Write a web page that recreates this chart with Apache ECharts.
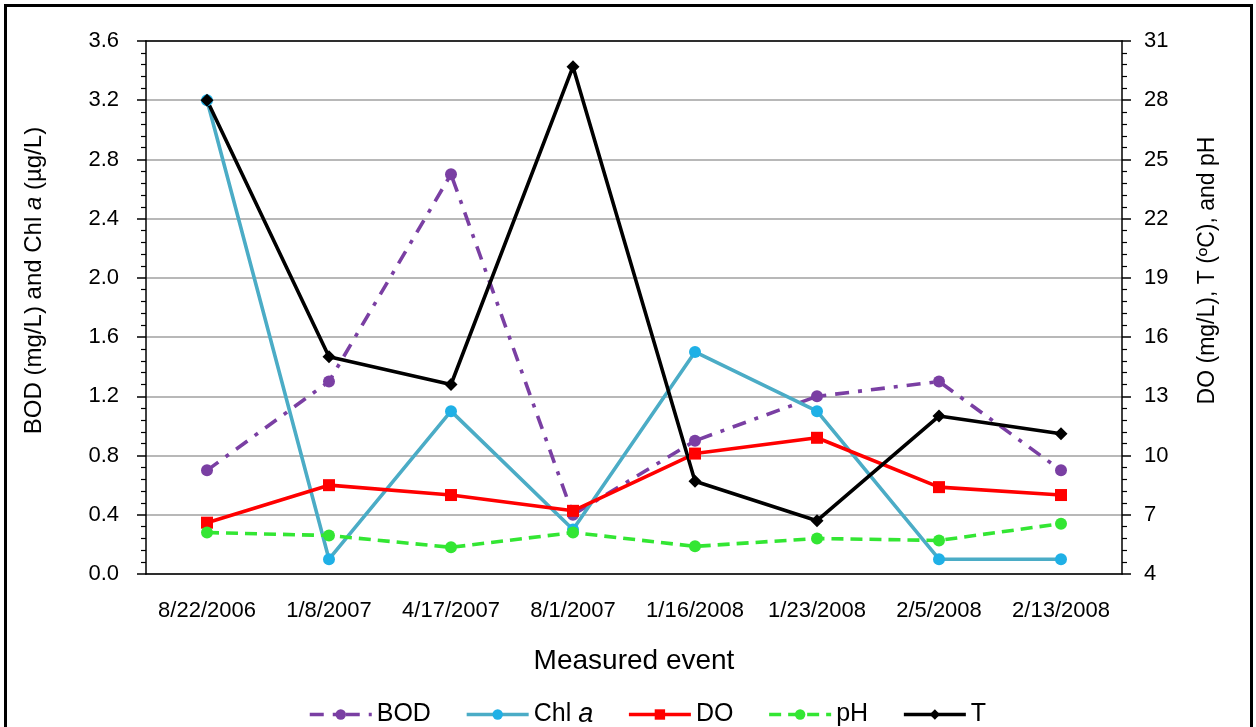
<!DOCTYPE html>
<html>
<head>
<meta charset="utf-8">
<script src="https://cdn.jsdelivr.net/npm/echarts@6/dist/echarts.min.js"></script>
<style>
html,body{margin:0;padding:0;background:#fff;}
#chart{width:1256px;height:727px;}
</style>
</head>
<body>
<div id="chart"></div>
<script>
// Categories (measured events)
const categories = ['8/22/2006','1/8/2007','4/17/2007','8/1/2007','1/16/2008','1/23/2008','2/5/2008','2/13/2008'];
// Left axis: BOD (mg/L) and Chl a (µg/L)
const bodValues = [0.7, 1.3, 2.7, 0.4, 0.9, 1.2, 1.3, 0.7];
const chlValues = [3.2, 0.1, 1.1, 0.3, 1.5, 1.1, 0.1, 0.1];
// Right axis: DO (mg/L), T (ºC), pH
const doValues = [6.6, 8.5, 8.0, 7.2, 10.1, 10.9, 8.4, 8.0];
const phValues = [6.1, 5.95, 5.35, 6.1, 5.4, 5.8, 5.7, 6.55];
const tValues = [28.0, 15.0, 13.6, 29.7, 8.7, 6.7, 12.0, 11.1];
// Axis ranges
const leftAxisRange = [0, 3.6, 0.4];
const rightAxisRange = [4, 31];

const FONT = 'Liberation Sans, Arial, sans-serif';
const chart = echarts.init(document.getElementById('chart'));

const option = {
  animation: false,
  backgroundColor: '#fff',
  grid: {left: 146, right: 134, top: 41, bottom: 153},
  graphic: [{
    type: 'rect', silent: true, z: -10,
    shape: {x: 5.5, y: 5.5, width: 1246, height: 800},
    style: {fill: null, stroke: '#000', lineWidth: 3}
  }],
  legend: {
    left: 303, top: 696,
    itemWidth: 62, itemHeight: 13, itemGap: 34,
    lineStyle: {width: 3.5},
    textStyle: {fontFamily: FONT, fontSize: 25, color: '#000',
      rich: {i: {fontFamily: FONT, fontSize: 27, fontStyle: 'italic', color: '#000'}}},
    formatter: function (name) { return name === 'Chl a' ? 'Chl {i|a}' : name; },
    data: ['BOD', 'Chl a', 'DO', 'pH', 'T']
  },
  xAxis: [{
    type: 'category',
    data: categories,
    boundaryGap: true,
    name: 'Measured event',
    nameLocation: 'middle',
    nameGap: 73,
    nameTextStyle: {fontFamily: FONT, fontSize: 28, color: '#000'},
    axisLine: {lineStyle: {color: '#000', width: 1.5}},
    axisTick: {alignWithLabel: true, length: 6, lineStyle: {color: '#000', width: 1.5}},
    axisLabel: {fontFamily: FONT, fontSize: 22, color: '#000', margin: 26, interval: 0},
    splitLine: {show: false}
  }, {
    type: 'category',
    data: categories,
    position: 'top',
    axisLine: {show: true, onZero: false, lineStyle: {color: '#000', width: 1.5}},
    axisTick: {show: false},
    axisLabel: {show: false},
    splitLine: {show: false}
  }],
  yAxis: [{
    type: 'value',
    min: leftAxisRange[0], max: leftAxisRange[1], interval: leftAxisRange[2],
    position: 'left',
    name: 'BOD (mg/L) and Chl {i|a} (µg/L)',
    nameLocation: 'middle',
    nameGap: 100,
    nameTextStyle: {fontFamily: FONT, fontSize: 24, color: '#000', padding: [0, 0, 0, 54],
      rich: {i: {fontFamily: FONT, fontSize: 24, fontStyle: 'italic', color: '#000'}}},
    axisLine: {show: true, lineStyle: {color: '#000', width: 1.5}},
    axisTick: {show: true, length: 9, lineStyle: {color: '#000', width: 1.5}},
    minorTick: {show: true, splitNumber: 5, length: 5, lineStyle: {color: '#000', width: 1.2}},
    axisLabel: {fontFamily: FONT, fontSize: 22, color: '#000', margin: 27,
      formatter: v => v.toFixed(1)},
    splitLine: {show: true, lineStyle: {color: '#a0a0a0', width: 1.5}}
  }, {
    type: 'value',
    min: rightAxisRange[0], max: rightAxisRange[1],
    alignTicks: true,
    position: 'right',
    name: 'DO (mg/L), T (ºC), and pH',
    nameLocation: 'middle',
    nameGap: 74,
    nameTextStyle: {fontFamily: FONT, fontSize: 23, color: '#000', padding: [0, 0, 0, 74]},
    axisLine: {show: true, lineStyle: {color: '#000', width: 1.5}},
    axisTick: {show: true, length: 9, lineStyle: {color: '#000', width: 1.5}},
    minorTick: {show: true, splitNumber: 5, length: 5, lineStyle: {color: '#000', width: 1.2}},
    axisLabel: {fontFamily: FONT, fontSize: 22, color: '#000', margin: 22},
    splitLine: {show: false}
  }],
  series: [{
    name: 'BOD', type: 'line', yAxisIndex: 0, data: bodValues,
    symbol: 'circle', symbolSize: 12,
    lineStyle: {color: '#7a3fa3', width: 3.6, type: [14, 9, 4, 9]},
    itemStyle: {color: '#7a3fa3'}
  }, {
    name: 'Chl a', type: 'line', yAxisIndex: 0, data: chlValues,
    symbol: 'circle', symbolSize: 12,
    lineStyle: {color: '#4bacc6', width: 3.6},
    itemStyle: {color: '#1fb0e6'}
  }, {
    name: 'DO', type: 'line', yAxisIndex: 1, data: doValues,
    symbol: 'rect', symbolSize: 12,
    lineStyle: {color: '#ff0000', width: 3.6},
    itemStyle: {color: '#ff0000'}
  }, {
    name: 'pH', type: 'line', yAxisIndex: 1, data: phValues,
    symbol: 'circle', symbolSize: 12,
    lineStyle: {color: '#33e633', width: 3.6, type: [12, 7]},
    itemStyle: {color: '#33e633'}
  }, {
    name: 'T', type: 'line', yAxisIndex: 1, data: tValues,
    symbol: 'diamond', symbolSize: 13,
    lineStyle: {color: '#000', width: 3.6},
    itemStyle: {color: '#000'}
  }]
};
chart.setOption(option);
</script>
</body>
</html>
